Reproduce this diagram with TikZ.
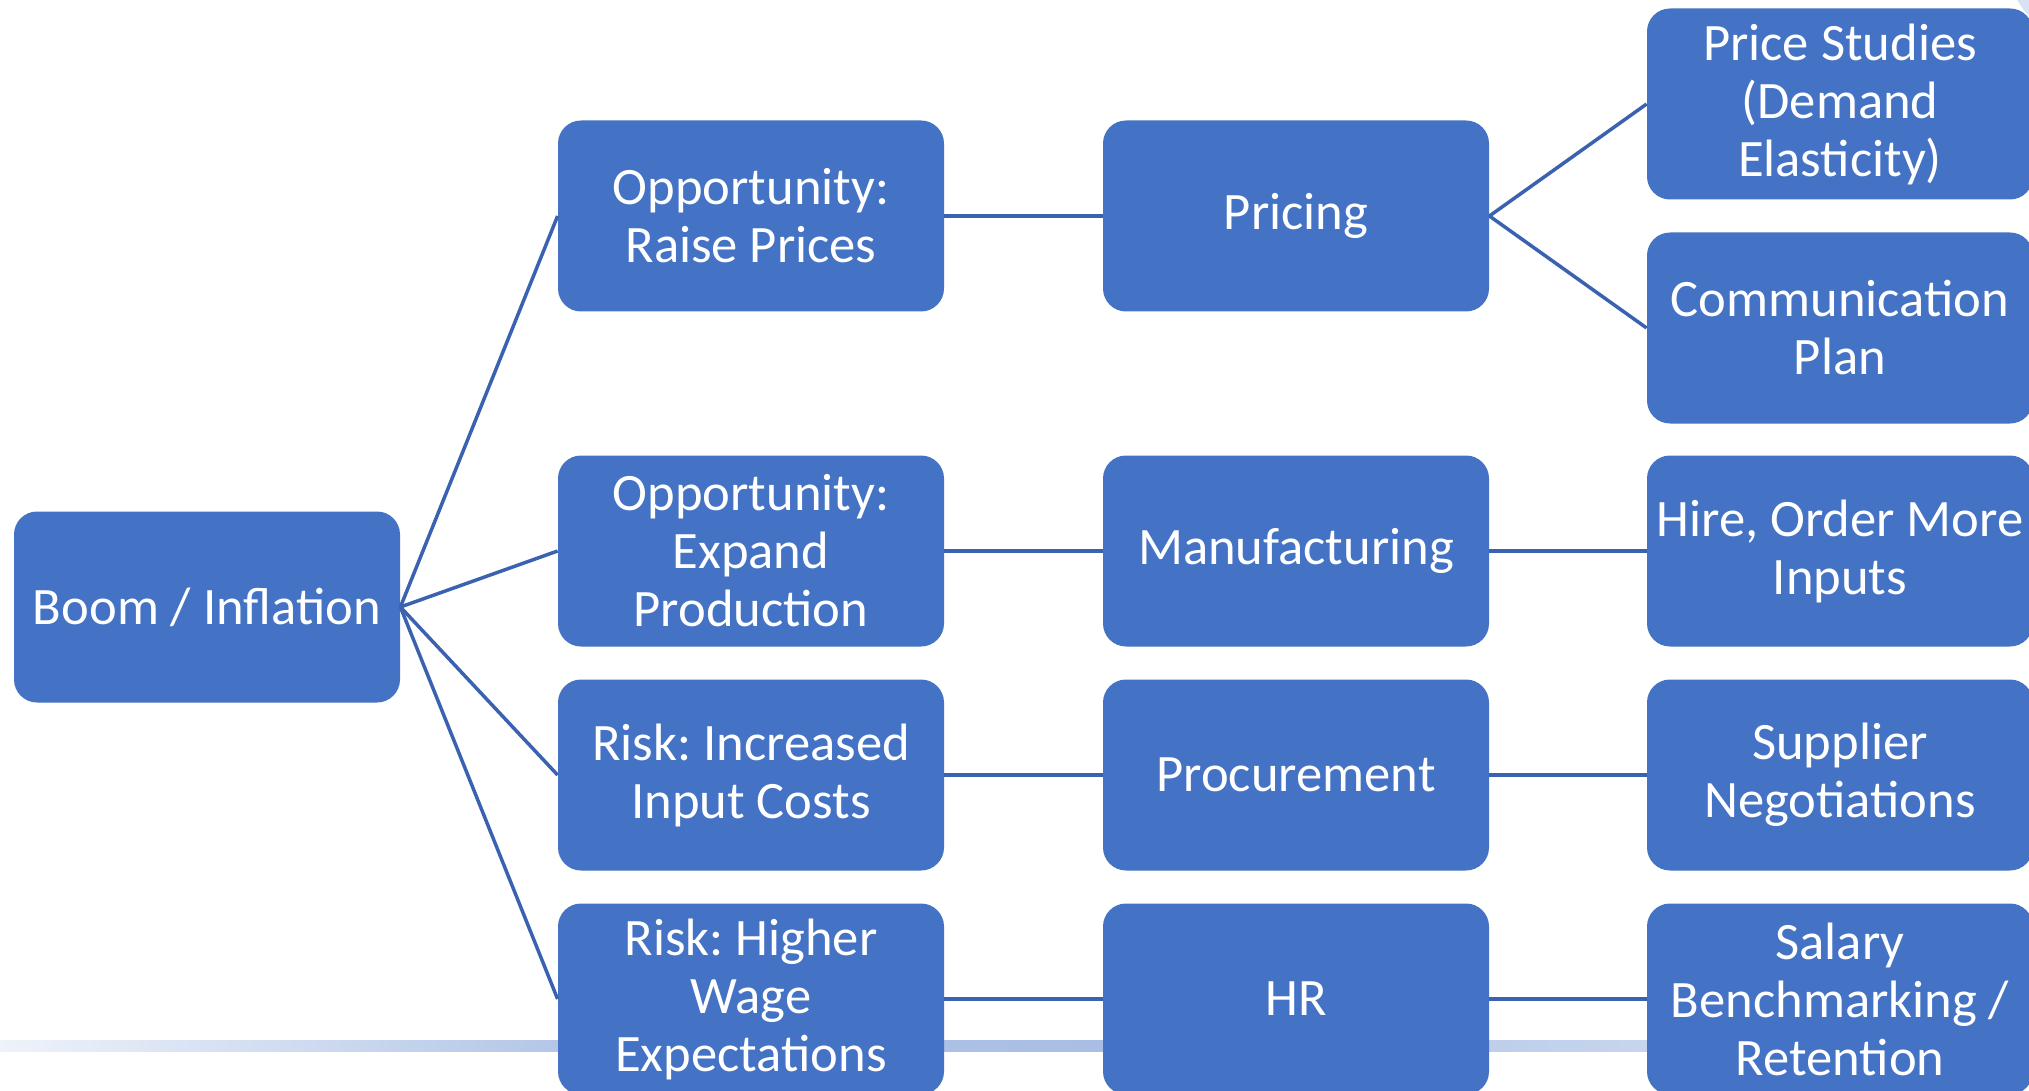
\documentclass[tikz,border=0pt]{standalone}
\usepackage{fontspec}
\setmainfont{Carlito}
\frenchspacing
\definecolor{boxblue}{HTML}{4472C4}
\definecolor{linkblue}{HTML}{3A62B0}
\definecolor{barlight}{HTML}{EEF2FA}
\definecolor{barleft}{HTML}{B4C7E7}
\definecolor{barmid}{HTML}{A9BEE4}
\definecolor{barright}{HTML}{DCE5F4}
\definecolor{cornerpale}{HTML}{D9E2F2}
\begin{document}
\begin{tikzpicture}[x=0.5pt,y=-0.5pt,
  card/.style={fill=boxblue, draw=none, rounded corners=11.5pt,
    minimum width=193pt, minimum height=95.5pt, inner sep=0pt,
    text=white, align=center,
    font=\fontsize{26.3pt}{29pt}\selectfont},
  link/.style={draw=linkblue, line width=1.75pt}]
\useasboundingbox (0,0) rectangle (2029,1091);
\clip (0,0) rectangle (2029,1091);

% decorative background: pale corner disc and fading bar near the bottom
\fill[cornerpale] (2075,-30) circle (65);
\shade[left color=barlight, right color=barleft] (0,1040) rectangle (556,1051);
\shade[left color=barleft, right color=barmid] (555,1040) rectangle (1101,1051);
\shade[left color=barmid, right color=barright] (1100,1040) rectangle (2029,1051);

% root
\node[card] (boom) at (207,607) {Boom / Inflation};

% second column
\node[card] (raise)  at (751,216) {Opportunity:\\Raise Prices};
\node[card] (expand) at (751,551) {Opportunity:\\Expand\\Production};
\node[card] (costs)  at (751,775) {Risk: Increased\\Input Costs};
\node[card] (wages)  at (751,999) {Risk: Higher\\Wage\\Expectations};

% third column
\node[card] (pricing) at (1296,216) {Pricing};
\node[card] (manuf)   at (1296,551) {Manufacturing};
\node[card] (procure) at (1296,775) {Procurement};
\node[card] (hr)      at (1296,999) {HR};

% fourth column
\node[card] (studies) at (1840,104) {Price Studies\\(Demand\\Elasticity)};
\node[card] (comms)   at (1840,328) {Communication\\Plan};
\node[card] (hire)    at (1840,551) {Hire, Order More\\Inputs};
\node[card] (supply)  at (1840,775) {Supplier\\Negotiations};
\node[card] (salary)  at (1840,999) {Salary\\Benchmarking /\\Retention};

% connectors
\foreach \t in {raise,expand,costs,wages}
  \draw[link] (boom.east) -- (\t.west);
\draw[link] (raise.east)  -- (pricing.west);
\draw[link] (expand.east) -- (manuf.west);
\draw[link] (costs.east)  -- (procure.west);
\draw[link] (wages.east)  -- (hr.west);
\draw[link] (pricing.east) -- (studies.west);
\draw[link] (pricing.east) -- (comms.west);
\draw[link] (manuf.east)   -- (hire.west);
\draw[link] (procure.east) -- (supply.west);
\draw[link] (hr.east)      -- (salary.west);
\end{tikzpicture}
\end{document}
